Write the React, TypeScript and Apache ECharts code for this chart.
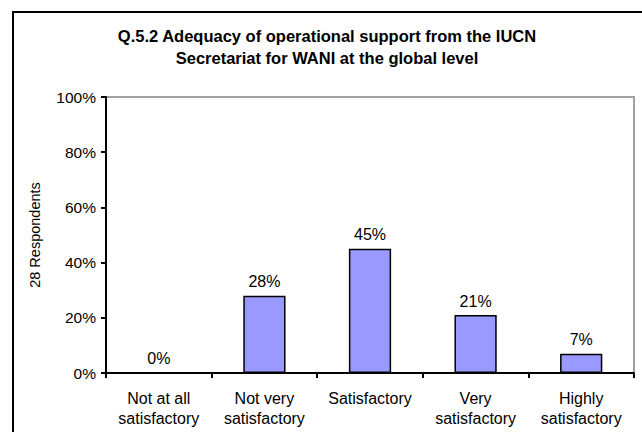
import React, { useEffect, useRef } from "react";
import * as echarts from "echarts";

const categories = [
  "Not at all\nsatisfactory",
  "Not very\nsatisfactory",
  "Satisfactory",
  "Very\nsatisfactory",
  "Highly\nsatisfactory",
];
const values = [0, 28, 45, 21, 7];
const yTicks = [0, 20, 40, 60, 80, 100];
const titleLines = [
  "Q.5.2 Adequacy of operational support from the IUCN",
  "Secretariat for WANI at the global level",
];
const yName = "28 Respondents";

const FONT = "'Liberation Sans', Arial, sans-serif";

export default function App() {
  const ref = useRef<HTMLDivElement>(null);
  useEffect(() => {
    if (!ref.current) return;
    const chart = echarts.init(ref.current, undefined, { renderer: "svg" });
    chart.setOption({
      animation: false,
      backgroundColor: "#ffffff",
      textStyle: { fontFamily: FONT },
      grid: {
        left: 106,
        top: 97,
        right: 8,
        bottom: 59,
        show: true,
        borderColor: "#a0a0a0",
        borderWidth: 2,
        backgroundColor: "transparent",
      },
      xAxis: {
        type: "category",
        data: categories,
        axisLine: { show: true, lineStyle: { color: "#000", width: 2 } },
        axisTick: { show: true, alignWithLabel: false, length: 5, lineStyle: { color: "#000", width: 2 } },
        axisLabel: {
          color: "#000",
          fontSize: 16,
          fontFamily: FONT,
          lineHeight: 20,
          margin: 15,
          interval: 0,
        },
        splitLine: { show: false },
      },
      yAxis: {
        type: "value",
        min: 0,
        max: 100,
        interval: 20,
        axisLine: { show: true, lineStyle: { color: "#000", width: 2 } },
        axisTick: { show: true, length: 5, lineStyle: { color: "#000", width: 2 } },
        axisLabel: {
          color: "#000",
          fontSize: 15.5,
          fontFamily: FONT,
          margin: 10,
          formatter: (v: number) => (yTicks.includes(v) ? v + "%" : ""),
        },
        splitLine: { show: false },
      },
      series: [
        {
          type: "bar",
          data: values,
          barWidth: "40%",
          itemStyle: { color: "#9999ff", borderColor: "#000", borderWidth: 1.5 },
          label: {
            show: true,
            position: "top",
            distance: 6,
            color: "#000",
            fontSize: 16,
            fontFamily: FONT,
            formatter: (p: any) => p.value + "%",
          },
        },
      ],
      graphic: [
        {
          type: "rect",
          shape: { x: 13, y: 12, width: 660, height: 460 },
          style: { fill: "none", stroke: "#000", lineWidth: 2 },
          silent: true,
        },
        {
          type: "text",
          x: 327,
          y: 36,
          style: {
            text: titleLines[0],
            fontSize: 16.5,
            fontWeight: "bold",
            fontFamily: FONT,
            fill: "#000",
            textAlign: "center",
            textVerticalAlign: "middle",
          },
        },
        {
          type: "text",
          x: 327,
          y: 58,
          style: {
            text: titleLines[1],
            fontSize: 16.5,
            fontWeight: "bold",
            fontFamily: FONT,
            fill: "#000",
            textAlign: "center",
            textVerticalAlign: "middle",
          },
        },
        {
          type: "text",
          x: 35,
          y: 235,
          rotation: Math.PI / 2,
          style: {
            text: yName,
            fontSize: 14.5,
            fontFamily: FONT,
            fill: "#000",
            textAlign: "center",
            textVerticalAlign: "middle",
          },
        },
      ],
    });
    return () => chart.dispose();
  }, []);
  return (
    <div
      ref={ref}
      style={{ position: "fixed", left: 0, top: 0, width: 642, height: 432 }}
    />
  );
}
